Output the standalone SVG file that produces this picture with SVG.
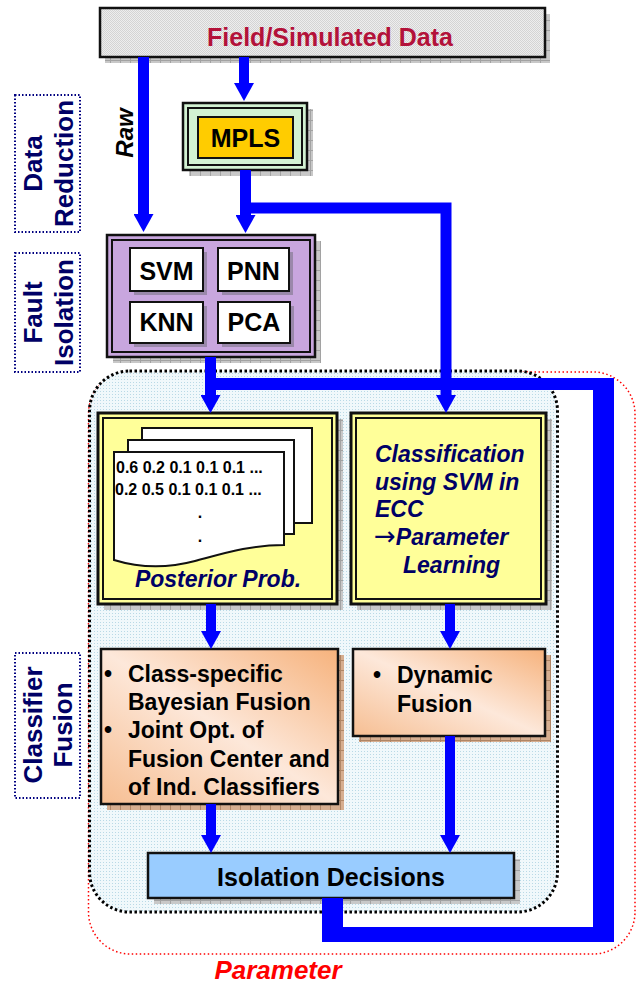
<svg xmlns="http://www.w3.org/2000/svg" width="636" height="984" viewBox="0 0 636 984">
  <defs>
    <!-- fine gray dither for the data source box -->
    <pattern id="dither-gray" width="2" height="2" patternUnits="userSpaceOnUse">
      <rect width="2" height="2" fill="#eeeeee"/>
      <rect width="1" height="1" fill="#d4d4d4"/>
      <rect x="1" y="1" width="1" height="1" fill="#d4d4d4"/>
    </pattern>
    <!-- light blue dither for the fusion region -->
    <pattern id="dither-blue" width="3" height="3" patternUnits="userSpaceOnUse">
      <rect width="3" height="3" fill="#f0f8fb"/>
      <rect x="1" y="1" width="1" height="1" fill="#b9d9e6"/>
    </pattern>
    <!-- drop shadows with a grid texture -->
    <pattern id="shadow-gray" width="10" height="10" patternUnits="userSpaceOnUse">
      <rect width="10" height="10" fill="#c8c8c8"/>
      <path d="M0,0.5H10M0.5,0V10" stroke="#a2a2a2" stroke-width="1"/>
    </pattern>
    <pattern id="shadow-tan" width="10" height="10" patternUnits="userSpaceOnUse">
      <rect width="10" height="10" fill="#d6ae90"/>
      <path d="M0,0.5H10M0.5,0V10" stroke="#b08666" stroke-width="1"/>
    </pattern>
    <linearGradient id="peach" x1="1" y1="0" x2="0" y2="1">
      <stop offset="0" stop-color="#f6b27c"/>
      <stop offset="0.5" stop-color="#fde8da"/>
      <stop offset="1" stop-color="#f6be92"/>
    </linearGradient>
    <marker id="head" viewBox="0 0 18 20" refX="0" refY="10" markerWidth="18" markerHeight="20" markerUnits="userSpaceOnUse" orient="auto">
      <path d="M0,0L18,10L0,20Z" fill="#0000ff"/>
    </marker>
    <style>
      text { font-family: "Liberation Sans", Arial, sans-serif; font-weight: bold; }
      .frame { stroke: #111111; stroke-width: 2.5; }
      .inner { fill: none; stroke: #111111; stroke-width: 2; }
      .cell { fill: #ffffff; stroke: #111111; stroke-width: 2; }
      .page { fill: #ffffff; stroke: #111111; stroke-width: 2; }
      .side { fill: none; stroke: #000080; stroke-width: 2; stroke-dasharray: 1.5 2; }
      .side-text { fill: #000066; font-size: 26px; text-anchor: middle; }
      .label { font-size: 25px; text-anchor: middle; fill: #000000; }
      .navy-it { fill: #000066; font-style: italic; font-size: 23px; }
      .sym { font-family: "DejaVu Sans", sans-serif; font-style: normal; font-weight: normal; font-size: 26px; }
      .body { font-size: 23px; fill: #000000; }
      .nums { font-size: 16px; fill: #000000; }
      .flow { fill: none; stroke: #0000ff; stroke-linecap: butt; stroke-linejoin: miter; }
      .arrow { marker-end: url(#head); }
    </style>
  </defs>

  <!-- side captions -->
  <g id="label-data-reduction">
    <rect class="side" x="15" y="95" width="65" height="137"/>
    <text class="side-text" transform="translate(42,163.5) rotate(-90)">Data</text>
    <text class="side-text" transform="translate(73,163.5) rotate(-90)">Reduction</text>
  </g>
  <g id="label-fault-isolation">
    <rect class="side" x="15" y="253" width="65" height="119"/>
    <text class="side-text" transform="translate(42,312.5) rotate(-90)">Fault</text>
    <text class="side-text" transform="translate(73,312.5) rotate(-90)">Isolation</text>
  </g>
  <g id="label-classifier-fusion">
    <rect class="side" x="15" y="653" width="65" height="145"/>
    <text class="side-text" transform="translate(42,725) rotate(-90)">Classifier</text>
    <text class="side-text" transform="translate(72,725) rotate(-90)">Fusion</text>
  </g>

  <!-- parameter feedback region and fusion region -->
  <g id="region-parameter">
    <rect x="88.5" y="372" width="546.5" height="582" rx="42" ry="42" fill="none" stroke="#ff0000" stroke-width="1.5" stroke-dasharray="1.5 2.5"/>
    <text x="278" y="979" text-anchor="middle" font-size="26" font-style="italic" fill="#ff0000">Parameter</text>
  </g>
  <g id="region-fusion">
    <rect x="89.5" y="371" width="468" height="541" rx="40" ry="40" fill="url(#dither-blue)" stroke="#000000" stroke-width="3" stroke-dasharray="2.5 2.5"/>
  </g>

  <g id="raw-label">
    <text transform="translate(133,133) rotate(-90)" text-anchor="middle" font-size="24" font-style="italic" fill="#000000">Raw</text>
  </g>

  <!-- nodes -->
  <g id="node-data">
    <rect x="105" y="14" width="445" height="49" fill="url(#shadow-gray)"/>
    <rect class="frame" x="100" y="8" width="445" height="49" fill="url(#dither-gray)"/>
    <text x="330" y="46" text-anchor="middle" font-size="25" fill="#b3123a">Field/Simulated Data</text>
  </g>

  <g id="node-mpls">
    <rect x="189" y="109" width="124" height="67" fill="url(#shadow-gray)"/>
    <rect class="frame" x="183" y="103" width="124" height="67" fill="#d2f2d2"/>
    <rect class="inner" x="188" y="108" width="114" height="57"/>
    <rect x="198" y="117" width="95" height="41" fill="#ffcc00" stroke="#111111" stroke-width="2"/>
    <text class="label" x="245.5" y="147">MPLS</text>
  </g>

  <g id="node-fault-isolation">
    <rect x="113" y="241" width="208" height="122" fill="url(#shadow-gray)"/>
    <rect class="frame" x="107" y="235" width="208" height="122" fill="#c8a6de"/>
    <rect class="inner" x="112" y="240" width="198" height="112"/>
    <rect x="134" y="252" width="73" height="43" fill="#9a88aa"/>
    <rect x="222" y="252" width="71" height="43" fill="#9a88aa"/>
    <rect x="134" y="306" width="73" height="41" fill="#9a88aa"/>
    <rect x="222" y="306" width="72" height="41" fill="#9a88aa"/>
    <rect class="cell" x="130" y="248" width="73" height="43"/>
    <rect class="cell" x="218" y="248" width="71" height="43"/>
    <rect class="cell" x="130" y="302" width="73" height="41"/>
    <rect class="cell" x="218" y="302" width="72" height="41"/>
    <text class="label" x="166.5" y="280">SVM</text>
    <text class="label" x="253.5" y="280">PNN</text>
    <text class="label" x="166.5" y="331">KNN</text>
    <text class="label" x="254" y="331">PCA</text>
  </g>

  <g id="node-posterior">
    <rect x="104" y="419" width="239" height="191" fill="url(#shadow-gray)"/>
    <rect x="98" y="413" width="239" height="191" fill="#ffff99" stroke="#111111" stroke-width="3"/>
    <rect class="inner" x="103" y="418" width="229" height="181"/>
    <rect class="page" x="142" y="428" width="170" height="95"/>
    <rect class="page" x="128" y="440" width="166" height="94"/>
    <path class="page" d="M114,452H284V545C250,545 225,553 195,561C165,569 140,568 114,560Z"/>
    <text class="nums" x="116" y="473">0.6 0.2 0.1 0.1 0.1 ...</text>
    <text class="nums" x="115" y="495">0.2 0.5 0.1 0.1 0.1 ...</text>
    <text class="nums" x="200" y="518" text-anchor="middle">.</text>
    <text class="nums" x="200" y="542" text-anchor="middle">.</text>
    <text class="navy-it" x="218" y="587" text-anchor="middle">Posterior Prob.</text>
  </g>

  <g id="node-classification">
    <rect x="357" y="419" width="195" height="191" fill="url(#shadow-gray)"/>
    <rect x="351" y="413" width="195" height="191" fill="#ffff99" stroke="#111111" stroke-width="3"/>
    <rect class="inner" x="356" y="418" width="185" height="181"/>
    <text class="navy-it" x="375" y="462">Classification</text>
    <text class="navy-it" x="375" y="490">using SVM in</text>
    <text class="navy-it" x="375" y="517">ECC</text>
    <text class="navy-it" x="374" y="545"><tspan class="sym">→</tspan>Parameter</text>
    <text class="navy-it" x="403" y="573">Learning</text>
  </g>

  <g id="node-bayesian-fusion">
    <rect x="107" y="655" width="237" height="155" fill="url(#shadow-tan)"/>
    <rect class="frame" x="101" y="649" width="237" height="155" fill="url(#peach)"/>
    <text class="body" x="108" y="682" text-anchor="middle">•</text>
    <text class="body" x="128" y="682">Class-specific</text>
    <text class="body" x="128" y="710">Bayesian Fusion</text>
    <text class="body" x="108" y="738" text-anchor="middle">•</text>
    <text class="body" x="128" y="738">Joint Opt. of</text>
    <text class="body" x="128" y="767">Fusion Center and</text>
    <text class="body" x="128" y="795">of Ind. Classifiers</text>
  </g>

  <g id="node-dynamic-fusion">
    <rect x="359" y="655" width="192" height="87" fill="url(#shadow-tan)"/>
    <rect class="frame" x="353" y="649" width="192" height="87" fill="url(#peach)"/>
    <text class="body" x="377" y="683" text-anchor="middle">•</text>
    <text class="body" x="397" y="683">Dynamic</text>
    <text class="body" x="397" y="712">Fusion</text>
  </g>

  <g id="node-isolation-decisions">
    <rect x="154" y="859" width="366" height="45" fill="url(#shadow-gray)"/>
    <rect class="frame" x="148" y="853" width="366" height="45" fill="#99ccff"/>
    <text class="label" x="331" y="886" font-size="26">Isolation Decisions</text>
  </g>

  <!-- connectors -->
  <g id="connectors">
    <path class="flow arrow" d="M143.5,57V214" stroke-width="11"/>
    <path class="flow arrow" d="M244,57V83" stroke-width="10"/>
    <path class="flow arrow" d="M245.5,170V215" stroke-width="11"/>
    <path class="flow arrow" d="M240,208H446V395" stroke-width="11"/>
    <path class="flow arrow" d="M210.5,357V395" stroke-width="11"/>
    <!-- parameter feedback loop from the decisions back to the classifiers -->
    <path d="M322,898H343V927H593V390H205V378H614V942H322Z" fill="#0000ff"/>
    <path class="flow arrow" d="M211,604V631" stroke-width="10"/>
    <path class="flow arrow" d="M450,604V631" stroke-width="10"/>
    <path class="flow arrow" d="M211,804V835" stroke-width="10"/>
    <path class="flow arrow" d="M450,736V835" stroke-width="10"/>
  </g>
</svg>
